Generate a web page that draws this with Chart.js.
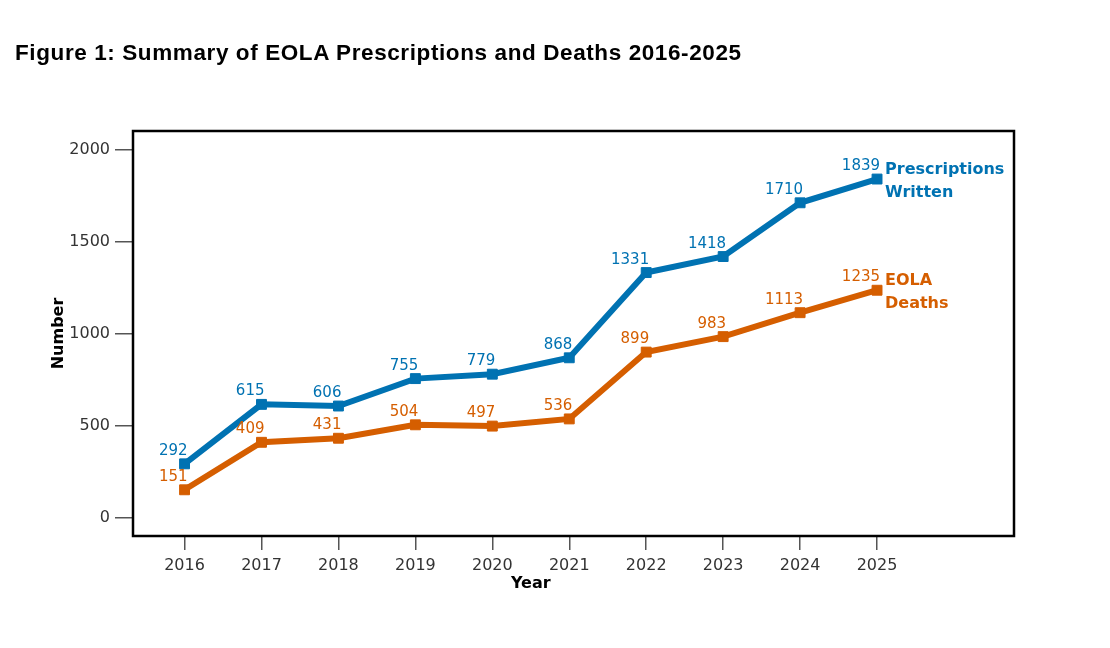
<!DOCTYPE html>
<html>
<head>
<meta charset="utf-8">
<script src="https://cdn.jsdelivr.net/npm/chart.js@4/dist/chart.umd.min.js"></script>
<style>
  body { margin: 0; background: #fff; }
  #wrap { position: relative; width: 1110px; height: 648px; }
  h1 {
    position: absolute; left: 15px; top: 42px; margin: 0;
    font: bold 22.5px "Liberation Sans", Arial, sans-serif; line-height: 22px; color: #000;
    letter-spacing: 0.6px; white-space: nowrap;
  }
  canvas { position: absolute; left: 0; top: 0; }
</style>
</head>
<body>
<div id="wrap">
  <canvas id="myChart" width="1110" height="648"></canvas>
  <h1>Figure 1: Summary of EOLA Prescriptions and Deaths 2016-2025</h1>
</div>
<script>
const years = [2016, 2017, 2018, 2019, 2020, 2021, 2022, 2023, 2024, 2025]
const prescriptions = [292, 615, 606, 755, 779, 868, 1331, 1418, 1710, 1839]
const deaths = [151, 409, 431, 504, 497, 536, 899, 983, 1113, 1235]
const yTicks = [0, 500, 1000, 1500, 2000]
const seriesNames = [['Prescriptions', 'Written'], ['EOLA', 'Deaths']]

const blue = '#0072B2'
const orange = '#D55E00'
const FONT = '"DejaVu Sans", sans-serif'

// value labels, series names, box and axis titles
const labelPlugin = {
  id: 'labels',
  afterDatasetsDraw(chart) {
    const ctx = chart.ctx
    const area = chart.chartArea
    const xs = chart.scales.x
    const ys = chart.scales.y
    ctx.save()

    chart.data.datasets.forEach((ds, i) => {
      const meta = chart.getDatasetMeta(i)
      ctx.fillStyle = ds.borderColor
      ctx.font = '15px ' + FONT
      ctx.textAlign = 'right'
      ctx.textBaseline = 'alphabetic'
      meta.data.forEach((pt, j) => {
        ctx.fillText(String(ds.data[j].y), pt.x + 3, pt.y - 9)
      })
      let last = meta.data[meta.data.length - 1]
      ctx.font = 'bold 16px ' + FONT
      ctx.textAlign = 'left'
      seriesNames[i].forEach((line, k) => {
        ctx.fillText(line, last.x + 8, last.y - 5 + k * 23)
      })
    })

    ctx.strokeStyle = '#000'
    ctx.lineWidth = 2.5
    ctx.strokeRect(area.left, area.top, area.right - area.left, area.bottom - area.top)

    ctx.fillStyle = '#000'
    ctx.font = 'bold 16px ' + FONT
    ctx.textAlign = 'center'
    ctx.fillText('Year', xs.getPixelForValue((years[0] + years[years.length - 1]) / 2), 588)
    ctx.translate(63, ys.getPixelForValue(1000))
    ctx.rotate(-Math.PI / 2)
    ctx.fillText('Number', 0, 0)
    ctx.restore()
  }
}

const ctx = document.getElementById('myChart')

new Chart(ctx, {
  type: 'line',
  data: {
    datasets: [{
      label: 'Prescriptions Written',
      data: years.map((y, i) => ({ x: y, y: prescriptions[i] })),
      borderColor: blue,
      backgroundColor: blue,
      borderWidth: 6,
      pointStyle: 'rect',
      pointRadius: 7,
      pointBorderWidth: 1,
      tension: 0,
    }, {
      label: 'EOLA Deaths',
      data: years.map((y, i) => ({ x: y, y: deaths[i] })),
      borderColor: orange,
      backgroundColor: orange,
      borderWidth: 6,
      pointStyle: 'rect',
      pointRadius: 7,
      pointBorderWidth: 1,
      tension: 0,
    }]
  },
  options: {
    responsive: false,
    animation: false,
    layout: { padding: { left: 0, top: 131, right: 96, bottom: 0 } },
    plugins: {
      legend: { display: false },
      tooltip: { enabled: false }
    },
    scales: {
      x: {
        type: 'linear',
        min: 2015.33,
        max: 2026.78,
        afterBuildTicks: s => { s.ticks = years.map(v => ({ value: v })) },
        afterFit: s => { s.height = 112 },
        border: { display: false },
        grid: { drawOnChartArea: false, drawTicks: true, tickLength: 14, color: '#555', lineWidth: 1.5 },
        ticks: { color: '#333', font: { family: FONT, size: 16 }, padding: 6, maxRotation: 0, callback: v => String(v) }
      },
      y: {
        min: -100,
        max: 2100,
        afterBuildTicks: s => { s.ticks = yTicks.map(v => ({ value: v })) },
        afterFit: s => { s.width = 133 },
        border: { display: false },
        grid: { drawOnChartArea: false, drawTicks: true, tickLength: 18, color: '#555', lineWidth: 1.5 },
        ticks: { color: '#333', font: { family: FONT, size: 16 }, padding: 5, callback: v => String(v) }
      }
    }
  },
  plugins: [labelPlugin]
});
</script>
</body>
</html>
